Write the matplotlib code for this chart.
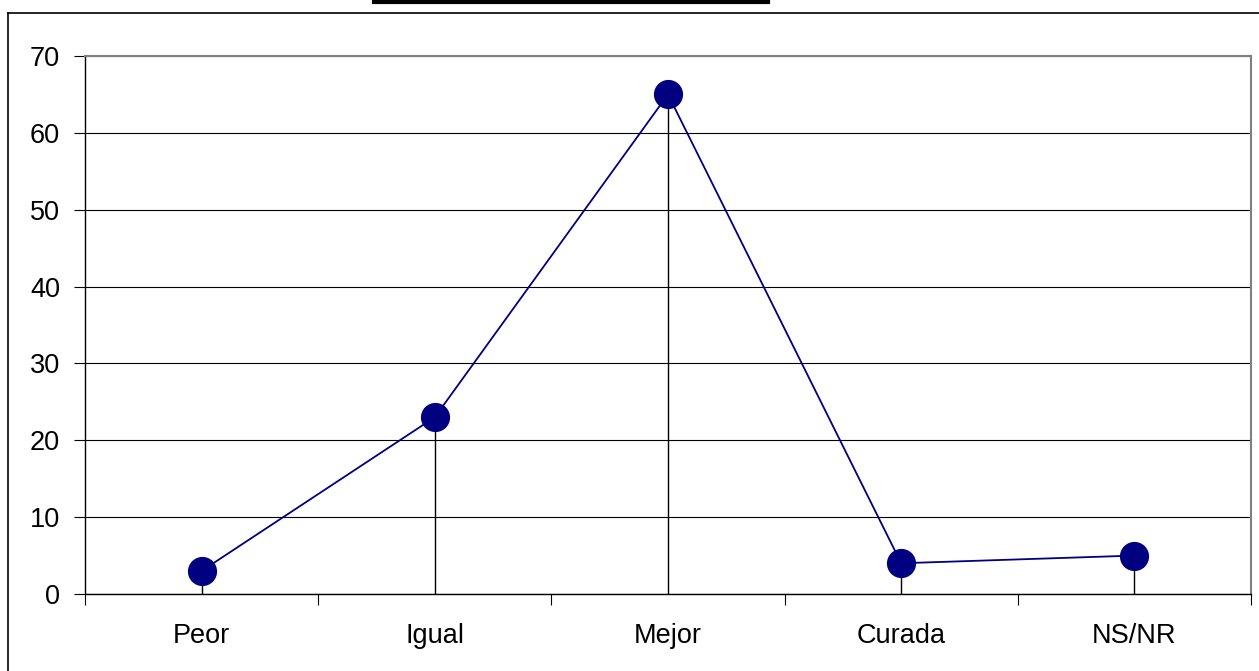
import matplotlib.pyplot as plt
from matplotlib.lines import Line2D

categorias = ["Peor", "Igual", "Mejor", "Curada", "NS/NR"]
valores = [3, 23, 65, 4, 5]

plt.rcParams['font.family'] = ['Liberation Sans', 'DejaVu Sans']

fig = plt.figure(figsize=(12.59, 6.71), dpi=100)
ax = fig.add_axes([85 / 1259, 1 - 594 / 671, 1166 / 1259, 538 / 671])

x = list(range(len(categorias)))

# lineas verticales desde cada punto hasta el eje
ax.vlines(x, 0, valores, colors="black", linewidth=1.0, zorder=2)
ax.plot(x, valores, color="#000080", linewidth=1.3, zorder=3)
ax.plot(x, valores, linestyle="none", marker="o", markersize=20,
        markerfacecolor="#000080", markeredgecolor="#000080", zorder=4)

ax.set_xlim(-0.5, len(categorias) - 0.5)
ax.set_ylim(0, 70)
ax.set_yticks(range(0, 71, 10))
ax.yaxis.grid(True, color="black", linewidth=0.8)
ax.set_axisbelow(True)

ax.set_xticks(x)
ax.set_xticklabels(categorias, fontsize=19.5)
ax.set_xticks([i - 0.5 for i in range(len(categorias) + 1)], minor=True)
ax.tick_params(axis="x", which="major", length=0, pad=21)
ax.tick_params(axis="x", which="minor", length=8, width=0.8, direction="out")
ax.tick_params(axis="y", labelsize=19.5, length=8, width=0.8, pad=10)

for lado in ["top", "right"]:
    ax.spines[lado].set_color("#808080")
    ax.spines[lado].set_linewidth(1.5)
ax.spines["left"].set_linewidth(1.0)
ax.spines["bottom"].set_linewidth(1.0)

# marco exterior y barra superior
fig.add_artist(Line2D([8 / 1259, 8 / 1259], [0, 1 - 13 / 671],
                      transform=fig.transFigure, color="black", linewidth=1.2))
fig.add_artist(Line2D([8 / 1259, 1], [1 - 13 / 671, 1 - 13 / 671],
                      transform=fig.transFigure, color="black", linewidth=1.2))
fig.add_artist(Line2D([374 / 1259, 768 / 1259], [1 - 1.5 / 671, 1 - 1.5 / 671],
                      transform=fig.transFigure, color="black", linewidth=3))

fig.savefig("out.png", dpi=100)
